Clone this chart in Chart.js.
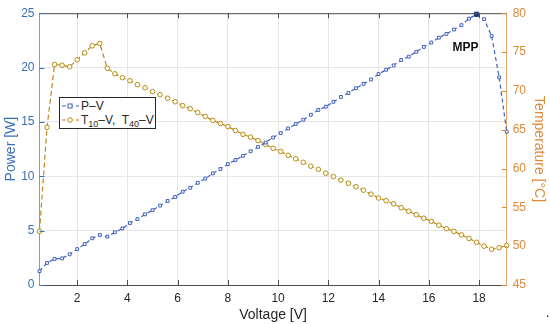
<!DOCTYPE html>
<html>
<head>
<meta charset="utf-8">
<script src="https://cdn.jsdelivr.net/npm/chart.js@4.4.0/dist/chart.umd.min.js"></script>
<style>
  html, body { margin: 0; padding: 0; background: #fff; }
  #wrap { position: relative; width: 550px; height: 324px; font-family: "Liberation Sans", Arial, sans-serif; }
  #legend { position: absolute; left: 59px; top: 97px; width: 95px; height: 30px; border: 1px solid #262626; background: #fff; font-size: 12px; color: #262626; }
  .row { position: absolute; left: 1px; height: 14px; line-height: 14px; white-space: nowrap; }
  .row svg { position: absolute; left: 0; top: 0; }
  .row span.t { position: absolute; left: 20px; top: 0; }
  .sb { font-size: 9px; position: relative; top: 3px; }
  #dot { position: absolute; left: 546px; top: 306px; font-size: 12px; color: #000; }
</style>
</head>
<body>
<div id="wrap">
  <canvas id="chart" width="550" height="324"></canvas>
  <div id="legend"></div>
  <div id="dot">.</div>
</div>
<script>
// voltage samples [V]
const voltage = [0.5, 0.8, 1.1, 1.4, 1.7, 2.0, 2.3, 2.6, 2.9, 3.2, 3.5, 3.8, 4.1, 4.4, 4.7, 5.0,
  5.3, 5.6, 5.9, 6.2, 6.5, 6.8, 7.1, 7.4, 7.7, 8.0, 8.3, 8.6, 8.9, 9.2, 9.5, 9.8, 10.1, 10.4,
  10.7, 11.0, 11.3, 11.6, 11.9, 12.2, 12.5, 12.8, 13.1, 13.4, 13.7, 14.0, 14.3, 14.6, 14.9,
  15.2, 15.5, 15.8, 16.1, 16.4, 16.7, 17.0, 17.3, 17.6, 17.9, 18.2, 18.5, 18.8, 19.1];

// P-V [W]
const power = [1.27, 2.03, 2.4, 2.45, 2.82, 3.3, 3.76, 4.3, 4.6, 4.45, 4.85, 5.2, 5.7, 6.06, 6.5, 6.88,
  7.3, 7.73, 8.1, 8.58, 8.94, 9.4, 9.79, 10.27, 10.67, 11.12, 11.5, 11.88, 12.3, 12.7, 13.1, 13.57,
  13.97, 14.4, 14.8, 15.2, 15.66, 16.1, 16.4, 16.85, 17.3, 17.66, 18.1, 18.5, 18.9, 19.4, 19.8,
  20.2, 20.7, 21.0, 21.45, 21.9, 22.3, 22.75, 23.1, 23.5, 23.9, 24.5, 24.9, 24.45, 22.9, 19.1, 14.1];

// T-V [°C]
const temperature = [51.9, 65.3, 73.4, 73.3, 73.1, 74.0, 74.9, 75.8, 76.1, 72.9, 72.2, 71.7, 71.3,
  70.8, 70.4, 69.9, 69.5, 69.05, 68.6, 68.1, 67.7, 67.2, 66.7, 66.2, 65.8, 65.4, 64.9, 64.4, 64.05,
  63.6, 63.1, 62.6, 62.2, 61.7, 61.25, 60.8, 60.3, 59.9, 59.4, 58.96, 58.5, 58.1, 57.65, 57.2,
  56.7, 56.2, 55.85, 55.45, 54.95, 54.5, 54.05, 53.6, 53.2, 52.7, 52.25, 51.9, 51.45, 51.0, 50.5,
  50.0, 49.6, 49.8, 50.1];

const xTicks = [2, 4, 6, 8, 10, 12, 14, 16, 18];
const powerTicks = [0, 5, 10, 15, 20, 25];
const tempTicks = [45, 50, 55, 60, 65, 70, 75, 80];

const BLUE = '#4062BE';
const BLUE_AX = '#3A70B8';
const ORANGE_AX = '#DE8A3A';
const GOLD = '#C0861C';
const DARK = '#262626';
const GRID = '#E6E6E6';

const mppIndex = power.indexOf(Math.max(...power));

const frame = {
    id: 'frame',
    afterDatasetsDraw(chart) {
        const { ctx, chartArea: a, scales } = chart;
        ctx.save();
        // top box line with inward ticks
        ctx.strokeStyle = '#4D4D4D';
        ctx.lineWidth = 1;
        ctx.beginPath();
        ctx.moveTo(a.left, a.top + 0.5);
        ctx.lineTo(a.right, a.top + 0.5);
        xTicks.forEach(v => {
            const x = Math.round(scales.x.getPixelForValue(v)) + 0.5;
            ctx.moveTo(x, a.top); ctx.lineTo(x, a.top + 5);
            ctx.moveTo(x, a.bottom); ctx.lineTo(x, a.bottom - 5);
        });
        ctx.stroke();
        // left / right inward ticks
        ctx.strokeStyle = BLUE_AX;
        ctx.beginPath();
        powerTicks.forEach(v => {
            const y = Math.round(scales.yP.getPixelForValue(v)) + 0.5;
            ctx.moveTo(a.left, y); ctx.lineTo(a.left + 5, y);
        });
        ctx.stroke();
        ctx.strokeStyle = ORANGE_AX;
        ctx.beginPath();
        tempTicks.forEach(v => {
            const y = Math.round(scales.yT.getPixelForValue(v)) + 0.5;
            ctx.moveTo(a.right, y); ctx.lineTo(a.right - 5, y);
        });
        ctx.stroke();
        // MPP label
        const px = scales.x.getPixelForValue(voltage[mppIndex]);
        const py = scales.yP.getPixelForValue(power[mppIndex]);
        ctx.fillStyle = '#111';
        ctx.font = 'bold 12px "Liberation Sans", Arial, sans-serif';
        ctx.textAlign = 'center';
        ctx.textBaseline = 'middle';
        ctx.fillText('MPP', px - 11, py + 33);
        ctx.restore();
    }
};

const ctx = document.getElementById('chart');
new Chart(ctx, {
    type: 'line',
    data: {
        datasets: [
            {
                label: 'P–V',
                data: voltage.map((v, i) => ({ x: v, y: power[i] })),
                yAxisID: 'yP',
                borderColor: BLUE,
                borderWidth: 1.2,
                borderDash: [4, 3],
                pointStyle: 'rect',
                pointRadius: c => c.dataIndex === mppIndex ? 3 : 2,
                pointBorderWidth: 1,
                pointBorderColor: c => c.dataIndex === mppIndex ? '#1F3A80' : BLUE,
                pointBackgroundColor: c => c.dataIndex === mppIndex ? '#1F3A80' : '#fff',
                tension: 0,
                clip: 6
            },
            {
                label: 'T–V',
                data: voltage.map((v, i) => ({ x: v, y: temperature[i] })),
                yAxisID: 'yT',
                borderColor: GOLD,
                borderWidth: 1.2,
                borderDash: [5, 3],
                pointStyle: 'circle',
                pointRadius: 2.3,
                pointBorderWidth: 1,
                pointBorderColor: '#B48C1E',
                pointBackgroundColor: '#FFFDE8',
                tension: 0,
                clip: 6
            }
        ]
    },
    options: {
        responsive: false,
        animation: false,
        layout: { padding: { top: 10, left: 0, right: 0, bottom: 0 } },
        plugins: { legend: { display: false }, tooltip: { enabled: false } },
        scales: {
            x: {
                type: 'linear',
                min: 0.5, max: 19.1,
                afterBuildTicks: s => { s.ticks = xTicks.map(v => ({ value: v })); },
                afterFit: s => { s.height = 39; },
                grid: { color: GRID, tickLength: 0 },
                border: { color: '#4D4D4D' },
                ticks: { color: DARK, font: { size: 12, family: '"Liberation Sans", Arial' }, padding: 6, maxRotation: 0 },
                title: { display: true, text: 'Voltage [V]', color: DARK, font: { size: 14, family: '"Liberation Sans", Arial' }, padding: { top: 0, bottom: 0 } }
            },
            yP: {
                type: 'linear',
                position: 'left',
                min: 0, max: 25,
                afterBuildTicks: s => { s.ticks = powerTicks.map(v => ({ value: v })); },
                afterFit: s => { s.width = 39.5; },
                grid: { color: GRID, tickLength: 0 },
                border: { color: '#7A9AD2' },
                ticks: { color: BLUE_AX, font: { size: 12, family: '"Liberation Sans", Arial' }, padding: 5 },
                title: { display: true, text: 'Power [W]', color: BLUE_AX, font: { size: 14, family: '"Liberation Sans", Arial' }, padding: { top: 3, bottom: 0 } }
            },
            yT: {
                type: 'linear',
                position: 'right',
                min: 45, max: 80,
                afterBuildTicks: s => { s.ticks = tempTicks.map(v => ({ value: v })); },
                afterFit: s => { s.width = 43.3; },
                grid: { drawOnChartArea: false, tickLength: 0 },
                border: { color: '#E6A868' },
                ticks: { color: ORANGE_AX, font: { size: 12, family: '"Liberation Sans", Arial' }, padding: 6 },
                title: { display: true, text: 'Temperature [°C]', color: ORANGE_AX, font: { size: 14, family: '"Liberation Sans", Arial' }, padding: { top: 3, bottom: 0 } }
            }
        }
    },
    plugins: [frame]
});

// legend with subscripts
function sample(color, marker, fill) {
    const m = marker === 'rect'
        ? `<rect x="7" y="5" width="4" height="4" fill="${fill}" stroke="${color}" stroke-width="1"/>`
        : `<circle cx="9" cy="7" r="2.3" fill="${fill}" stroke="${color}" stroke-width="1"/>`;
    return `<svg width="19" height="14"><line x1="1" y1="7" x2="18" y2="7" stroke="${color}" stroke-width="1.2" stroke-dasharray="4,3"/>${m}</svg>`;
}
document.getElementById('legend').innerHTML = `
  <div class="row" style="top:1px">${sample(BLUE, 'rect', '#fff')}<span class="t">P–V</span></div>
  <div class="row" style="top:15px">${sample(GOLD, 'circle', '#FFFDE8')}<span class="t">T<span class="sb">10</span>–V,&nbsp; T<span class="sb">40</span>–V</span></div>
`;
</script>
</body>
</html>
